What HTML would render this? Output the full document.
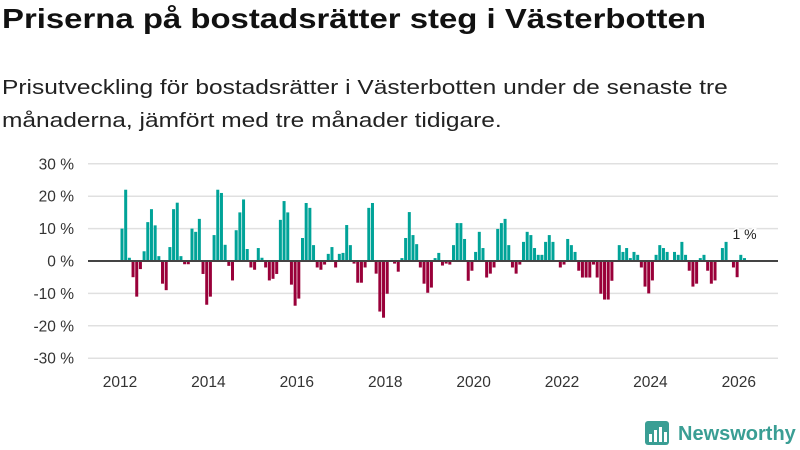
<!DOCTYPE html>
<html><head><meta charset="utf-8"><style>
body{margin:0;width:800px;height:450px;background:#fff;font-family:"Liberation Sans","DejaVu Sans",sans-serif;overflow:hidden;position:relative}
h1{position:absolute;left:2px;top:3px;margin:0;font-size:28px;font-weight:bold;color:#111;white-space:nowrap;transform:scaleX(1.175);transform-origin:left top}
.sub{position:absolute;left:2px;margin:0;font-size:20.5px;color:#222;white-space:nowrap;transform:scaleX(1.195);transform-origin:left top}
svg{position:absolute;left:0;top:0}
</style></head><body>
<h1>Priserna på bostadsrätter steg i Västerbotten</h1>
<div class="sub" style="top:76px">Prisutveckling för bostadsrätter i Västerbotten under de senaste tre</div>
<div class="sub" style="top:109px">månaderna, jämfört med tre månader tidigare.</div>
<svg id="chart" width="800" height="450"></svg>
<script>
const values=[10,22,1,-5,-11,-2.5,3,12,16,11,1.5,-7,-9,4.3,16,18,1.5,-1,-1,10,9,13,-4,-13.5,-11,8,22,21,5,-1.5,-6,9.5,15,19,3.7,-2,-2.7,4,1,-2,-6,-5.5,-4,12.7,18.5,15,-7.3,-13.8,-11.6,7.1,17.9,16.4,4.9,-2,-2.7,-1.1,2.2,4.3,-2,2.2,2.5,11.1,4.9,-0.8,-6.7,-6.7,-2,16.4,17.9,-3.9,-15.6,-17.5,-10.1,0,-0.8,-3.3,0.9,7.1,15.1,8,5.2,-2,-7,-9.8,-8.2,0.9,2.5,-1.4,-0.8,-1.1,4.9,11.7,11.7,6.8,-6.1,-3,2.8,9,4,-5.1,-3.9,-2,9.9,11.7,13,4.9,-2,-3.9,-1.1,5.9,9,8,4,1.9,1.9,5.9,8,5.9,0,-2,-1.1,6.8,4.9,2.8,-3,-5.1,-5.1,-5.1,-1.1,-5.1,-10.1,-11.9,-11.9,-6.1,0,4.9,2.8,4,0.9,2.8,1.9,-2,-7.9,-10,-6,1.9,4.9,4,2.8,0,2.8,1.9,5.9,1.9,-3,-7.9,-7,0.9,1.9,-3,-7,-6,0,4,5.9,0,-2,-5,1.9,0.9];
const yTicks=[-30,-20,-10,0,10,20,30];
const xYears=[2012,2014,2016,2018,2020,2022,2024,2026];
const lastLabel="1 %";
const ns="http://www.w3.org/2000/svg",svg=document.getElementById('chart');
const y=v=>261-v*3.24;
const step=622.5/169;
const xc=i=>122+i*step;
function mk(t,a){const e=document.createElementNS(ns,t);for(const k in a)e.setAttribute(k,a[k]);svg.appendChild(e);return e;}
yTicks.forEach(t=>{
  if(t!==0){const g=mk('line',{x1:88,x2:778,y1:y(t),y2:y(t),stroke:'#e0e0e0','stroke-width':1.5});
  
  }
  const l=mk('text',{x:74,y:y(t)+5.5,'text-anchor':'end','font-size':15.5,fill:'#333'});
  l.textContent=t+' %';
  
  
});
values.forEach((v,i)=>{
  const r=mk('rect',{x:xc(i)-1.5,y:Math.min(y(v),y(0)),width:3,height:Math.abs(y(v)-y(0)),fill:v>=0?'#00a398':'#990039'});
  
  
});
const z=mk('line',{x1:88,x2:778,y1:y(0),y2:y(0),stroke:'#444','stroke-width':2});


xYears.forEach(yr=>{
  const t=mk('text',{x:xc(12*(yr-2012))-2,y:387,'text-anchor':'middle','font-size':15.5,fill:'#333'});
  t.textContent=yr;
  
  
});
const li=values.length-1;
const lb=mk('text',{x:xc(li),y:y(values[li])-19,'text-anchor':'middle','font-size':14,fill:'#222',stroke:'#fff','stroke-width':3,'paint-order':'stroke'});
lb.textContent=lastLabel;


const lg=mk('g',{});


const box=document.createElementNS(ns,'rect');
[['x',645],['y',421],['width',24],['height',24],['rx',3],['fill','#3a9e94']].forEach(a=>box.setAttribute(a[0],a[1]));lg.appendChild(box);
[[649,434,3,8],[654,430,3,12],[659,427,3,15],[664,432,3,10]].forEach(b=>{const r=document.createElementNS(ns,'rect');r.setAttribute('x',b[0]);r.setAttribute('y',b[1]);r.setAttribute('width',b[2]);r.setAttribute('height',b[3]);r.setAttribute('fill','#fff');lg.appendChild(r);});
const lt=document.createElementNS(ns,'text');
lt.setAttribute('x',678);lt.setAttribute('y',440);lt.setAttribute('font-size',20);lt.setAttribute('fill','#3a9e94');lt.setAttribute('font-weight','bold');
lt.textContent='Newsworthy';lg.appendChild(lt);
</script>
</body></html>
